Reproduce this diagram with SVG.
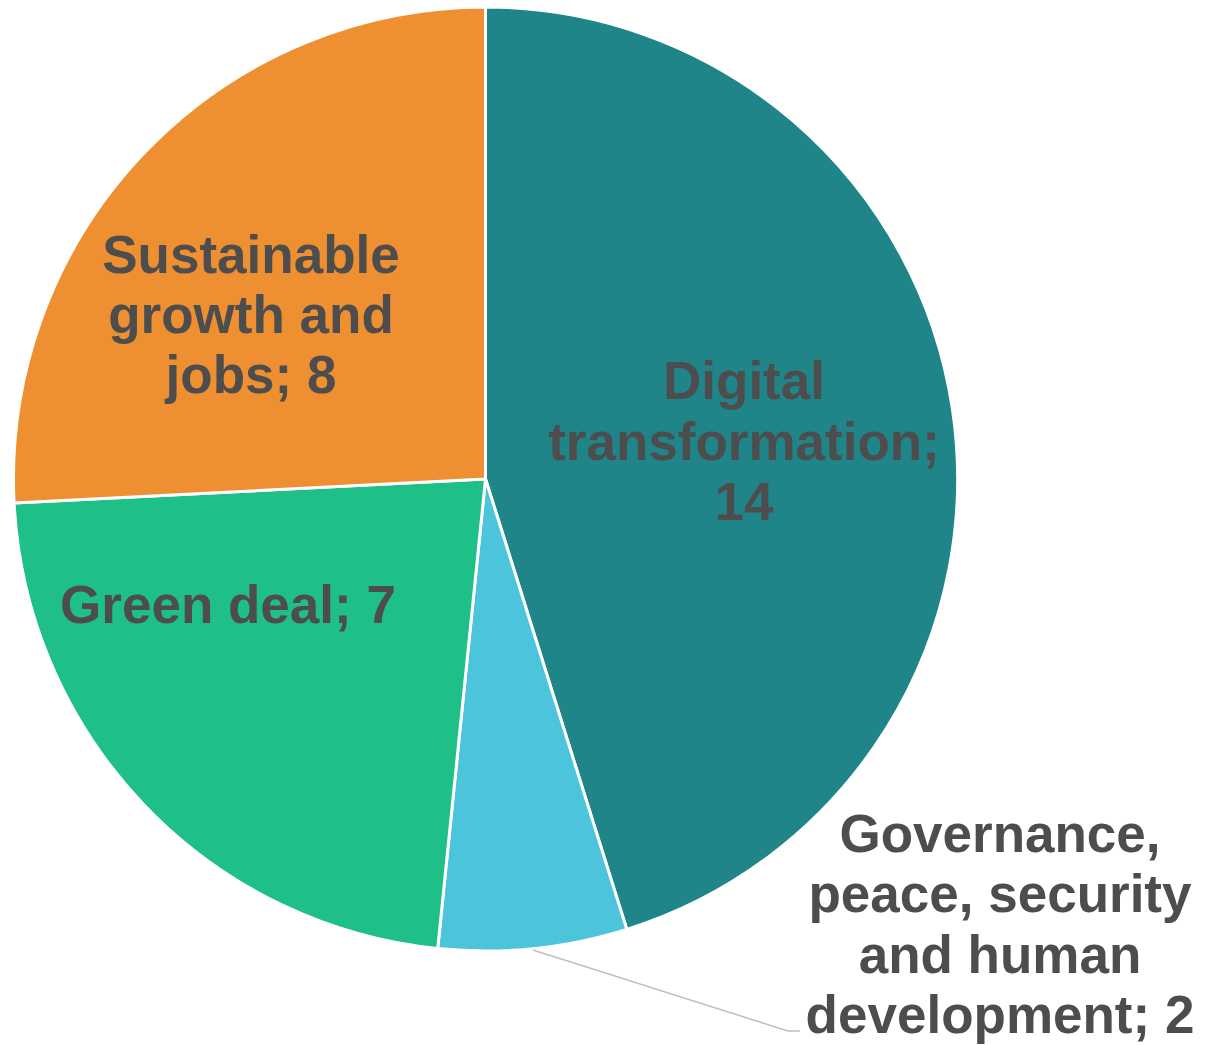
<svg xmlns="http://www.w3.org/2000/svg" width="1205" height="1045" viewBox="0 0 1205 1045">
<style>
.slice{stroke:#FFFFFF;stroke-width:3;stroke-linejoin:round}
.lbl{font-family:"Liberation Sans",Arial,sans-serif;font-weight:bold;font-size:53px;fill:#4D4D4D;text-anchor:middle}
.leader{fill:none;stroke:#BFBFBF;stroke-width:1.5}
</style>
<rect width="1205" height="1045" fill="#FFFFFF"/>
<g id="digital">
<path class="slice" fill="#1F8589" d="M485.5,479 L485.5,7 A472,472 0 0 1 626.8,929.4 Z"/>
<text class="lbl" x="744" y="399">Digital</text>
<text class="lbl" x="744" y="460">transformation;</text>
<text class="lbl" x="744" y="520">14</text>
</g>
<g id="governance">
<path class="slice" fill="#4BC4DC" d="M485.5,479 L626.8,929.4 A472,472 0 0 1 437.7,948.6 Z"/>
<text class="lbl" x="1000" y="852">Governance,</text>
<text class="lbl" x="1000" y="912">peace, security</text>
<text class="lbl" x="1000" y="973">and human</text>
<text class="lbl" x="1000" y="1033">development; 2</text>
</g>
<g id="green">
<path class="slice" fill="#1FBF88" d="M485.5,479 L437.7,948.6 A472,472 0 0 1 14.1,502.9 Z"/>
<text class="lbl" x="228" y="623">Green deal; 7</text>
</g>
<g id="sustainable">
<path class="slice" fill="#EE8F31" d="M485.5,479 L14.1,502.9 A472,472 0 0 1 485.5,7 Z"/>
<text class="lbl" x="251" y="273">Sustainable</text>
<text class="lbl" x="251" y="333">growth and</text>
<text class="lbl" x="251" y="393">jobs; 8</text>
</g>
<g id="connectors">
<polyline class="leader" points="533,950 788,1031 800,1031"/>
</g>
</svg>
